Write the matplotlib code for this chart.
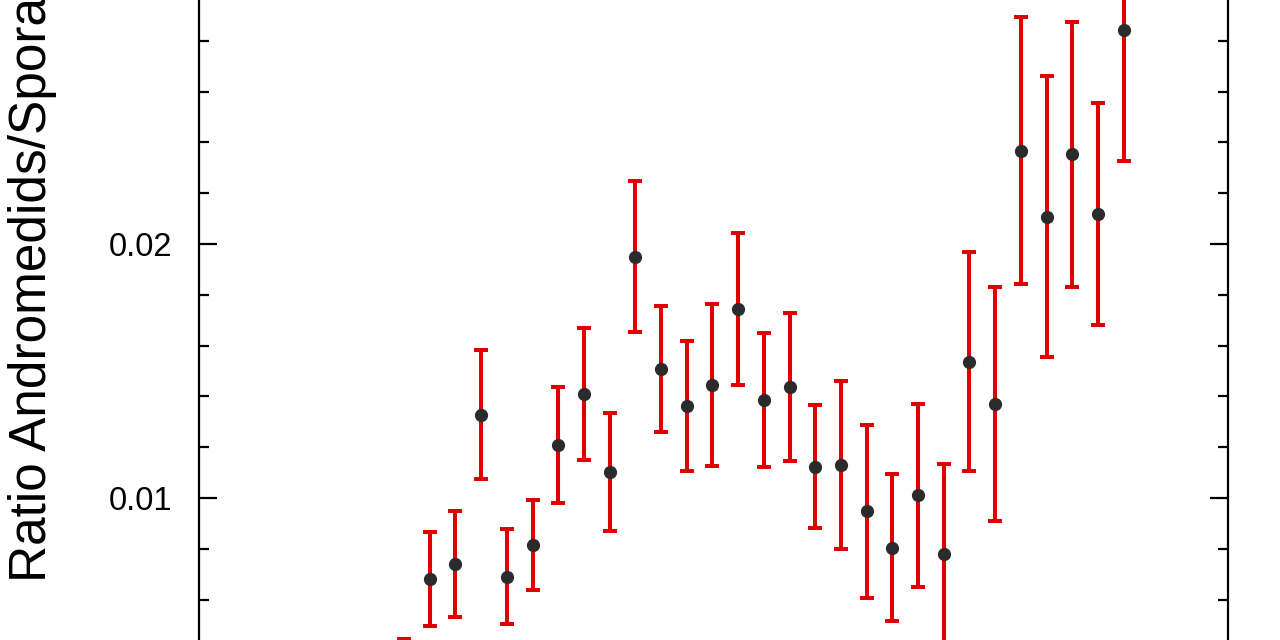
import numpy as np
import matplotlib.pyplot as plt
from matplotlib.ticker import MultipleLocator

plt.rcParams['font.family'] = ['Liberation Sans', 'DejaVu Sans']

# Data (bin index, ratio, symmetric 1-sigma error)
bins = np.arange(29)
ratio = [0.00268, 0.00682, 0.00740, 0.01327, 0.00690, 0.00815, 0.01210, 0.01408,
         0.01101, 0.01950, 0.01507, 0.01362, 0.01444, 0.01744, 0.01386, 0.01437,
         0.01123, 0.01131, 0.00948, 0.00804, 0.01011, 0.00780, 0.01537, 0.01369,
         0.02367, 0.02108, 0.02353, 0.02118, 0.02843]
ratio_err = [0.00177, 0.00185, 0.00209, 0.00254, 0.00186, 0.00179, 0.00228, 0.00260,
             0.00232, 0.00298, 0.00247, 0.00256, 0.00318, 0.00299, 0.00264, 0.00290,
             0.00242, 0.00331, 0.00340, 0.00289, 0.00361, 0.00354, 0.00431, 0.00461,
             0.00525, 0.00553, 0.00521, 0.00438, 0.00517]

fig = plt.figure(figsize=(12.8, 6.4), dpi=100)
# the visible region is a crop of a taller plot: axes fill the figure height
ax = fig.add_axes([199 / 1280, 0.0, 1029 / 1280, 1.0])

ax.errorbar(bins, ratio, yerr=ratio_err, fmt='o', color='#2b2b2b', markersize=8.5,
            ecolor='#e00000', elinewidth=2.9, capsize=5.3, capthick=2.9, zorder=3)

ax.set_xlim(-7.98, 32.06)
ax.set_ylim(0.004409, 0.029606)

ax.yaxis.set_major_locator(MultipleLocator(0.01))
ax.yaxis.set_minor_locator(MultipleLocator(0.002))
ax.yaxis.set_major_formatter(plt.FuncFormatter(lambda v, p: f'{v:.2f}'))
ax.tick_params(axis='y', which='both', direction='in', left=True, right=True,
               width=1.6, labelsize=23.5, pad=19)
ax.tick_params(axis='y', which='major', length=13)
ax.tick_params(axis='y', which='minor', length=7)
ax.tick_params(axis='x', which='both', bottom=False, top=False, labelbottom=False)

for side in ['left', 'right']:
    ax.spines[side].set_linewidth(1.6)
for side in ['top', 'bottom']:
    ax.spines[side].set_visible(False)

fig.text(33 / 1280, 1 - 582 / 640, 'Ratio Andromedids/Sporadics', rotation=90,
         ha='center', va='bottom', fontsize=37)

fig.savefig('out.png', dpi=100)
